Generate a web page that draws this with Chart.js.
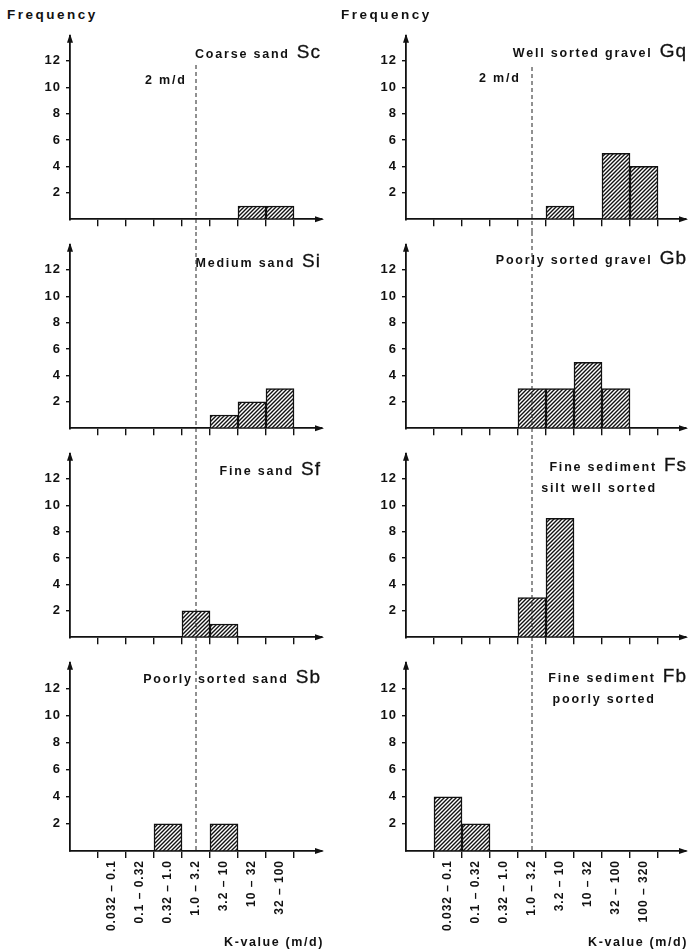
<!DOCTYPE html>
<html>
<head>
<meta charset="utf-8">
<script src="https://cdn.jsdelivr.net/npm/chart.js@4"></script>
<style>
  body { margin: 0; background: #fff; }
  #page { position: relative; width: 689px; height: 952px; overflow: hidden; font-family: "Liberation Sans", Arial, sans-serif; color: #111; }
  canvas { position: absolute; }
  .txt { position: absolute; font-weight: bold; white-space: nowrap; line-height: 1; }
  .lbl { position: absolute; display: flex; align-items: baseline; white-space: nowrap; }
  .lbl .desc { font-size: 12.5px; font-weight: bold; letter-spacing: 1.8px; line-height: 21px; text-align: right; }
  .lbl .code { font-size: 19px; letter-spacing: 1px; line-height: 1; margin-left: 7px; -webkit-text-stroke: 0.3px #111; }
</style>
</head>
<body>
<div id="page"></div>
<script>
// K-value classes (m/d)
const sandBins = ['0.032 – 0.1', '0.1 – 0.32', '0.32 – 1.0', '1.0 – 3.2', '3.2 – 10', '10 – 32', '32 – 100'];
const gravelBins = ['0.032 – 0.1', '0.1 – 0.32', '0.32 – 1.0', '1.0 – 3.2', '3.2 – 10', '10 – 32', '32 – 100', '100 – 320'];

// frequencies per class
const coarseSand = [0, 0, 0, 0, 0, 1, 1];
const mediumSand = [0, 0, 0, 0, 1, 2, 3];
const fineSand = [0, 0, 0, 2, 1, 0, 0];
const poorSand = [0, 0, 2, 0, 2, 0, 0];
const wellGravel = [0, 0, 0, 0, 1, 0, 5, 4];
const poorGravel = [0, 0, 0, 3, 3, 5, 3, 0];
const fineSilt = [0, 0, 0, 3, 9, 0, 0, 0];
const fineSediment = [4, 2, 0, 0, 0, 0, 0, 0];

const yTicks = [2, 4, 6, 8, 10, 12];
const markBin = '1.0 – 3.2'; // 2 m/d line

Chart.defaults.font.family = '"Liberation Sans", Arial, sans-serif';
Chart.defaults.color = '#111';

const page = document.getElementById('page');
const rowTops = [23, 232, 441, 650];
const cols = [
  {left: 0, width: 344, yWidth: 70, padRight: 22, codeRight: 321},
  {left: 344, width: 345, yWidth: 62, padRight: 3, codeRight: 687}
];

const panels = [
  {col: 0, row: 0, bins: sandBins, values: coarseSand, desc: ['Coarse sand'], code: 'Sc', base: 58},
  {col: 0, row: 1, bins: sandBins, values: mediumSand, desc: ['Medium sand'], code: 'Si', base: 267},
  {col: 0, row: 2, bins: sandBins, values: fineSand, desc: ['Fine sand'], code: 'Sf', base: 475},
  {col: 0, row: 3, bins: sandBins, values: poorSand, desc: ['Poorly sorted sand'], code: 'Sb', base: 683},
  {col: 1, row: 0, bins: gravelBins, values: wellGravel, desc: ['Well sorted gravel'], code: 'Gq', base: 57},
  {col: 1, row: 1, bins: gravelBins, values: poorGravel, desc: ['Poorly sorted gravel'], code: 'Gb', base: 264},
  {col: 1, row: 2, bins: gravelBins, values: fineSilt, desc: ['Fine sediment', 'silt well sorted'], code: 'Fs', base: 471},
  {col: 1, row: 3, bins: gravelBins, values: fineSediment, desc: ['Fine sediment', 'poorly sorted'], code: 'Fb', base: 682}
];

function hatch() {
  const c = document.createElement('canvas');
  c.width = 4; c.height = 4;
  const g = c.getContext('2d');
  g.fillStyle = '#fff';
  g.fillRect(0, 0, 4, 4);
  g.strokeStyle = '#111';
  g.lineWidth = 1.4;
  g.beginPath();
  g.moveTo(-1, 5); g.lineTo(5, -1);
  g.moveTo(-1, 1); g.lineTo(1, -1);
  g.moveTo(3, 5); g.lineTo(5, 3);
  g.stroke();
  return g.createPattern(c, 'repeat');
}
const pattern = hatch();

// dashed 2 m/d line and axis arrows
const decor = {
  id: 'decor',
  beforeDraw(chart) { chart.ctx.letterSpacing = '1px'; },
  afterDatasetsDraw(chart, args, o) {
    const {ctx, scales: {x}} = chart;
    const xp = x.getPixelForValue(o.mark);
    ctx.save();
    ctx.strokeStyle = '#222';
    ctx.lineWidth = 1;
    ctx.setLineDash([4, 3]);
    ctx.beginPath();
    ctx.moveTo(xp, o.top);
    ctx.lineTo(xp, o.bottom);
    ctx.stroke();
    ctx.restore();
  },
  afterDraw(chart) {
    const {ctx, chartArea: a} = chart;
    ctx.save();
    ctx.fillStyle = '#111';
    ctx.beginPath();
    ctx.moveTo(a.left, a.top - 2);
    ctx.lineTo(a.left - 3, a.top + 7);
    ctx.lineTo(a.left + 3, a.top + 7);
    ctx.closePath();
    ctx.fill();
    ctx.beginPath();
    ctx.moveTo(a.right + 2, a.bottom);
    ctx.lineTo(a.right - 7, a.bottom - 3);
    ctx.lineTo(a.right - 7, a.bottom + 3);
    ctx.closePath();
    ctx.fill();
    ctx.restore();
  }
};

panels.forEach(p => {
  const col = cols[p.col];
  const last = p.row === 3;
  const h = last ? 952 - rowTops[3] : 209;
  const cv = document.createElement('canvas');
  cv.width = col.width;
  cv.height = h;
  cv.style.left = col.left + 'px';
  cv.style.top = rowTops[p.row] + 'px';
  page.appendChild(cv);

  const labels = ['', ...p.bins, ''];
  const data = [null, ...p.values.map(v => v === 0 ? null : v), null];
  let dashTop = 0;
  if (p.row === 0) dashTop = p.col === 0 ? 42 : 44;

  new Chart(cv, {
    type: 'bar',
    data: {
      labels: labels,
      datasets: [{
        data: data,
        backgroundColor: pattern,
        borderColor: '#111',
        borderWidth: 1.5,
        barPercentage: 1,
        categoryPercentage: 1
      }]
    },
    options: {
      responsive: false,
      animation: false,
      events: [],
      layout: {padding: {top: 8, right: col.padRight, left: 0, bottom: 0}},
      plugins: {
        legend: {display: false},
        tooltip: {enabled: false},
        decor: {mark: labels.indexOf(markBin), top: dashTop, bottom: last ? 202 : h}
      },
      scales: {
        x: {
          type: 'category',
          offset: true,
          z: 1,
          afterFit: s => { s.height = h - 201; },
          border: {color: '#111', width: 1.8},
          grid: {
            offset: true,
            drawOnChartArea: false,
            tickLength: 7,
            lineWidth: 1.4,
            color: c => (c.type === 'tick' && c.index > 0) ? '#111' : 'rgba(0,0,0,0)'
          },
          ticks: {
            display: last,
            autoSkip: false,
            minRotation: 90,
            maxRotation: 90,
            padding: 2,
            color: '#111',
            font: {size: 12, weight: 'bold'}
          }
        },
        y: {
          min: 0,
          max: 13.9,
          z: 1,
          afterFit: s => { s.width = col.yWidth; },
          border: {color: '#111', width: 1.8},
          grid: {
            drawOnChartArea: false,
            tickLength: 4,
            lineWidth: 1.4,
            color: c => (c.tick && yTicks.includes(c.tick.value)) ? '#111' : 'rgba(0,0,0,0)'
          },
          ticks: {
            stepSize: 2,
            includeBounds: false,
            padding: 5,
            color: '#111',
            font: {size: 13, weight: 'bold'},
            callback: v => yTicks.includes(v) ? v : ''
          }
        }
      }
    },
    plugins: [decor]
  });

  // panel label
  const lbl = document.createElement('div');
  lbl.className = 'lbl';
  lbl.style.right = (689 - col.codeRight) + 'px';
  lbl.style.top = (p.base - 16.1) + 'px';
  const d = document.createElement('div');
  d.className = 'desc';
  d.innerHTML = p.desc.join('<br>');
  const c = document.createElement('div');
  c.className = 'code';
  c.textContent = p.code;
  lbl.appendChild(d);
  lbl.appendChild(c);
  page.appendChild(lbl);
});

function addText(text, size, spacing, baseline, left, right) {
  const t = document.createElement('div');
  t.className = 'txt';
  t.textContent = text;
  t.style.fontSize = size + 'px';
  t.style.letterSpacing = spacing + 'px';
  t.style.top = (baseline - 0.8465 * size) + 'px';
  if (left !== null) t.style.left = left + 'px';
  else t.style.right = right + 'px';
  page.appendChild(t);
}

addText('Frequency', 13.5, 2.5, 19, 7, null);
addText('Frequency', 13.5, 2.5, 19, 341, null);
addText('2 m/d', 12.5, 1.8, 85, 145, null);
addText('2 m/d', 12.5, 1.8, 83, 479, null);
addText('K-value (m/d)', 12.5, 1.6, 947, null, 365);
addText('K-value (m/d)', 12.5, 1.6, 947, null, 1);
</script>
</body>
</html>
